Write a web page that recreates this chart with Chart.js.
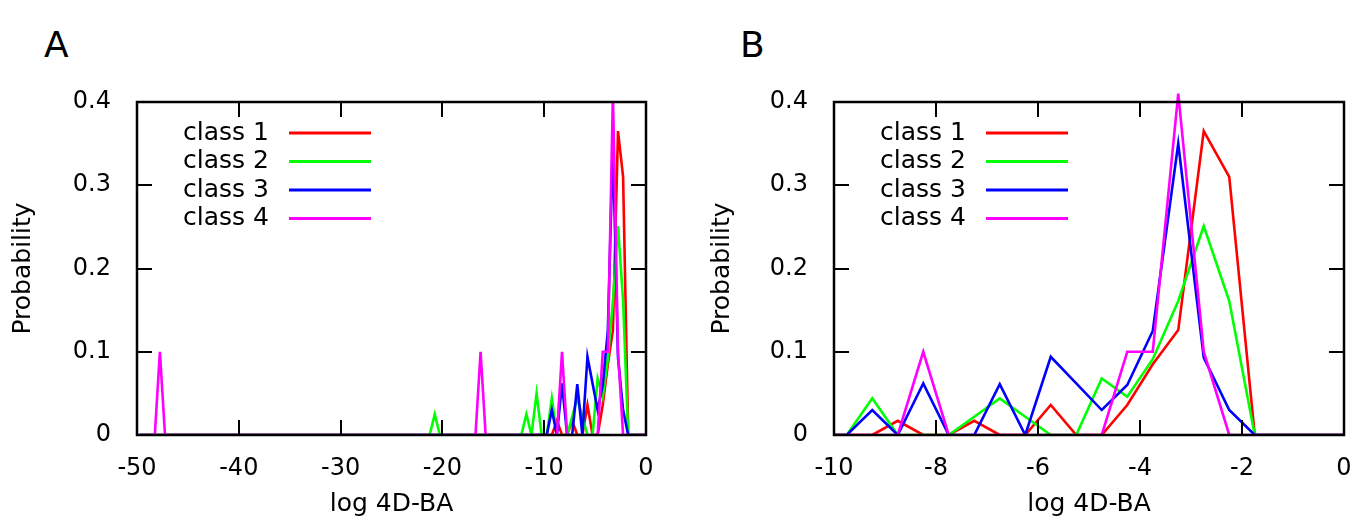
<!DOCTYPE html>
<html>
<head>
<meta charset="utf-8">
<script src="https://cdn.jsdelivr.net/npm/chart.js@4.4.0/dist/chart.umd.min.js"></script>
<style>
  body { margin: 0; background: #fff; width: 1358px; height: 520px; position: relative; overflow: hidden; font-family: "DejaVu Sans", sans-serif; }
  .panel { position: absolute; top: 0; width: 679px; height: 520px; }
  .tag { position: absolute; top: 27px; font-size: 36px; line-height: 36px; color: #000; }
</style>
</head>
<body>
<div class="tag" style="left:44px">A</div>
<div class="tag" style="left:740px">B</div>
<div class="panel" style="left:0"><canvas id="chartA"></canvas></div>
<div class="panel" style="left:679px"><canvas id="chartB"></canvas></div>
<script>
// bin centres (log 4D-BA) and probabilities
const class1X = [-49.75, -9.25, -8.75, -8.25, -7.75, -7.25, -6.75, -6.25, -5.75, -5.25, -4.75, -4.25, -3.75, -3.25, -2.75, -2.25, -1.75, 0];
const class1Y = [0, 0, 0.017, 0, 0, 0.017, 0, 0, 0.036, 0, 0, 0.036, 0.085, 0.126, 0.365, 0.31, 0, 0];

const class2X = [-49.75, -21.25, -20.75, -20.25, -12.25, -11.75, -11.25, -10.75, -10.25, -9.75, -9.25, -8.75, -7.75, -7.25, -6.75, -6.25, -5.75, -5.25, -4.75, -4.25, -3.75, -3.25, -2.75, -2.25, -1.75, 0];
const class2Y = [0, 0, 0.025, 0, 0, 0.025, 0, 0.05, 0, 0, 0.044, 0, 0, 0.022, 0.044, 0.022, 0, 0, 0.068, 0.046, 0.091, 0.161, 0.251, 0.161, 0, 0];

const class3X = [-49.75, -9.75, -9.25, -8.75, -8.25, -7.75, -7.25, -6.75, -6.25, -5.75, -5.25, -4.75, -4.25, -3.75, -3.25, -2.75, -2.25, -1.75, 0];
const class3Y = [0, 0, 0.03, 0, 0.062, 0, 0, 0.061, 0, 0.094, 0.062, 0.03, 0.06, 0.125, 0.35, 0.093, 0.03, 0, 0];

const class4X = [-49.75, -48.25, -47.75, -47.25, -16.75, -16.25, -15.75, -8.75, -8.25, -7.75, -4.75, -4.25, -3.75, -3.25, -2.75, -2.25, 0];
const class4Y = [0, 0, 0.1, 0, 0, 0.1, 0, 0, 0.1, 0, 0, 0.1, 0.1, 0.41, 0.1, 0, 0];

const classNames = ["class 1", "class 2", "class 3", "class 4"];
const classColors = ["#ff0000", "#00ff00", "#0000ff", "#ff00ff"];
const yTicks = [0, 0.1, 0.2, 0.3, 0.4];

const FONT = "'DejaVu Sans', sans-serif";

const toPoints = (xs, ys) => xs.map((x, i) => ({ x: x, y: ys[i] }));

// gnuplot style box with inward ticks on all four sides
const frameBox = {
  id: "frameBox",
  afterDatasetsDraw(chart) {
    const { ctx, chartArea: a, scales } = chart;
    const len = 15;
    ctx.save();
    ctx.strokeStyle = "#000";
    ctx.lineWidth = 2;
    ctx.beginPath();
    scales.x.ticks.forEach((t) => {
      const px = Math.round(scales.x.getPixelForValue(t.value));
      ctx.moveTo(px, a.bottom); ctx.lineTo(px, a.bottom - len);
      ctx.moveTo(px, a.top); ctx.lineTo(px, a.top + len);
    });
    scales.y.ticks.forEach((t) => {
      const py = Math.round(scales.y.getPixelForValue(t.value));
      ctx.moveTo(a.left, py); ctx.lineTo(a.left + len, py);
      ctx.moveTo(a.right, py); ctx.lineTo(a.right - len, py);
    });
    ctx.stroke();
    ctx.lineWidth = 2.5;
    ctx.strokeRect(a.left, a.top, a.right - a.left, a.bottom - a.top);
    ctx.restore();
  }
};

// key: text first, then a line sample
const keyBox = {
  id: "keyBox",
  afterDraw(chart) {
    const { ctx, chartArea: a } = chart;
    ctx.save();
    ctx.font = "25px " + FONT;
    ctx.textAlign = "right";
    ctx.textBaseline = "middle";
    chart.data.datasets.forEach((ds, i) => {
      const y = a.top + 31 + i * 28.5;
      ctx.fillStyle = "#000";
      ctx.fillText(ds.label, a.left + 132, y);
      ctx.strokeStyle = ds.borderColor;
      ctx.lineWidth = 2.8;
      ctx.beginPath();
      ctx.moveTo(a.left + 152, y);
      ctx.lineTo(a.left + 234, y);
      ctx.stroke();
    });
    ctx.restore();
  }
};

function makeChart(id, xMin, xStep, yWidth, padLeft, padRight, topClip) {
  const series = [
    toPoints(class1X, class1Y),
    toPoints(class2X, class2Y),
    toPoints(class3X, class3Y),
    toPoints(class4X, class4Y)
  ];
  const datasets = series.map((pts, i) => ({
    label: classNames[i],
    data: pts,
    borderColor: classColors[i],
    borderWidth: 2.6,
    pointRadius: 0,
    tension: 0,
    fill: false,
    order: 4 - i,
    clip: { left: 0, right: 0, bottom: 1, top: topClip }
  }));

  return new Chart(document.getElementById(id), {
    type: "line",
    data: { datasets },
    options: {
      responsive: true,
      maintainAspectRatio: false,
      animation: false,
      layout: { padding: { top: 102, left: padLeft, right: padRight, bottom: 0 } },
      plugins: { legend: { display: false }, tooltip: { enabled: false } },
      scales: {
        x: {
          type: "linear",
          min: xMin,
          max: 0,
          grid: { display: false },
          border: { display: false },
          ticks: { stepSize: xStep, color: "#000", font: { family: FONT, size: 24 }, padding: 11, maxRotation: 0 },
          title: { display: true, text: "log 4D-BA", color: "#000", font: { family: FONT, size: 25 }, padding: 1 },
          afterFit(s) { s.height = 85; s.paddingLeft = 0; s.paddingRight = 0; }
        },
        y: {
          min: 0,
          max: 0.4,
          grid: { display: false },
          border: { display: false },
          afterBuildTicks(s) { s.ticks = yTicks.map((v) => ({ value: v })); },
          ticks: { color: "#000", font: { family: FONT, size: 24 }, padding: 18 },
          title: { display: true, text: "Probability", color: "#000", font: { family: FONT, size: 25 }, padding: 8 },
          afterFit(s) { s.width = yWidth; s.paddingTop = 0; s.paddingBottom = 0; }
        }
      }
    },
    plugins: [frameBox, keyBox]
  });
}

makeChart("chartA", -50, 10, 137, 0, 33, 0);
makeChart("chartB", -10, 2, 135, 20, 14, 12);
</script>
</body>
</html>
